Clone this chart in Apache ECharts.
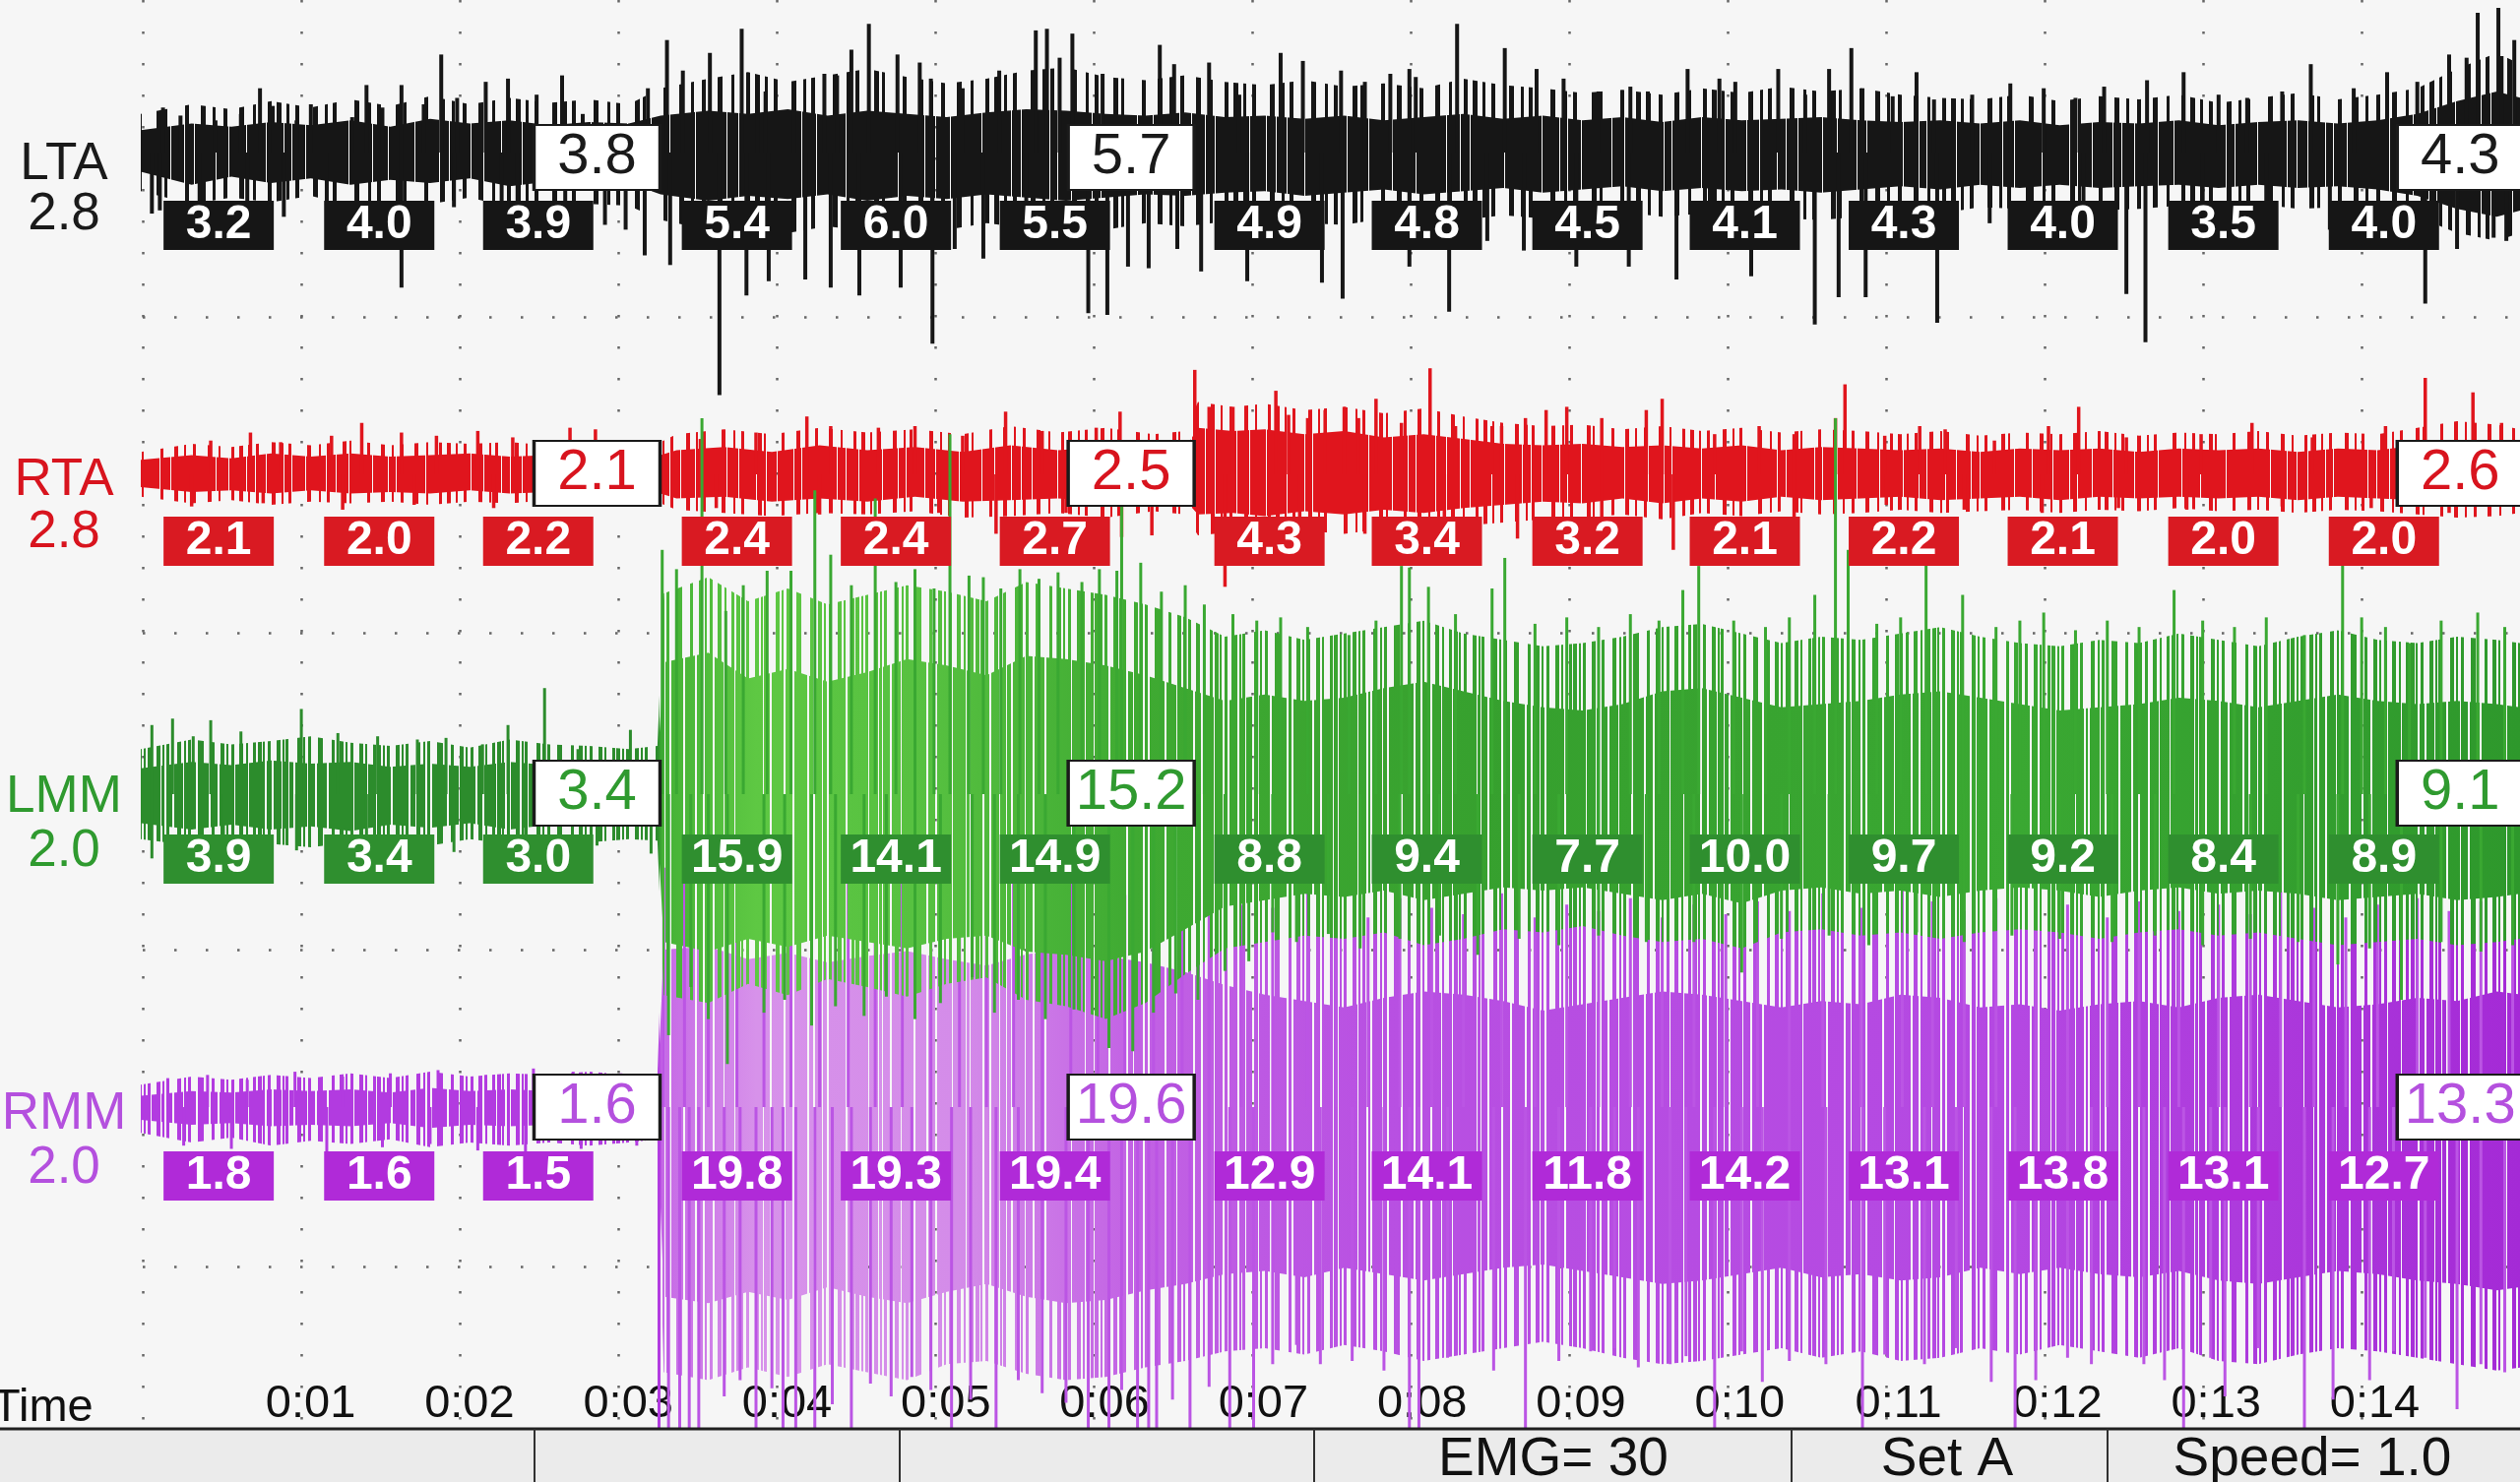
<!DOCTYPE html>
<html><head><meta charset="utf-8">
<style>html,body{margin:0;padding:0;background:#f6f6f6;}#c{width:2560px;height:1506px;}</style>
<script src="https://cdn.jsdelivr.net/npm/echarts@6/dist/echarts.min.js"></script>
</head><body><div id="c"></div>
<script>
// ---------------- DATA ----------------
const channels = ['LTA', 'RTA', 'LMM', 'RMM'];
const channelScales = ['2.8', '2.8', '2.0', '2.0'];
const timeLabels = ['0:01','0:02','0:03','0:04','0:05','0:06','0:07','0:08','0:09','0:10','0:11','0:12','0:13','0:14'];
const statusTexts = ['EMG= 30', 'Set A', 'Speed= 1.0'];

// times (s) of the per-window RMS labels and of the white "marker" boxes
const rmsTimes = [0.42, 1.43, 2.43, 3.68, 4.68, 5.68, 7.03, 8.02, 9.03, 10.02, 11.02, 12.02, 13.03, 14.04];
const boxTimes = [2.80, 6.16, 14.52];

const ltaRms = [3.2, 4.0, 3.9, 5.4, 6.0, 5.5, 4.9, 4.8, 4.5, 4.1, 4.3, 4.0, 3.5, 4.0];
const rtaRms = [2.1, 2.0, 2.2, 2.4, 2.4, 2.7, 4.3, 3.4, 3.2, 2.1, 2.2, 2.1, 2.0, 2.0];
const lmmRms = [3.9, 3.4, 3.0, 15.9, 14.1, 14.9, 8.8, 9.4, 7.7, 10.0, 9.7, 9.2, 8.4, 8.9];
const rmmRms = [1.8, 1.6, 1.5, 19.8, 19.3, 19.4, 12.9, 14.1, 11.8, 14.2, 13.1, 13.8, 13.1, 12.7];
const ltaBox = [3.8, 5.7, 4.3];
const rtaBox = [2.1, 2.5, 2.6];
const lmmBox = [3.4, 15.2, 9.1];
const rmmBox = [1.6, 19.6, 13.3];

// envelopes: [t, outerHigh, coreHigh, coreLow, outerLow] (amplitude, screen units)
const ltaEnv = [
[-0.07,24,14,-12,-24],[0.25,30,18,-20,-32],[0.5,27,16,-15,-28],[0.75,32,19,-19,-31],[1.0,28,17,-16,-27],
[1.25,33,20,-20,-33],[1.5,29,16,-17,-30],[1.75,35,21,-19,-32],[2.0,30,18,-16,-28],[2.25,34,20,-21,-34],
[2.5,31,17,-18,-30],[2.75,33,19,-20,-32],[3.0,30,18,-19,-33],[3.2,40,23,-26,-42],[3.5,46,26,-30,-48],
[3.75,50,24,-27,-47],[4.0,44,27,-29,-50],[4.25,48,23,-26,-46],[4.5,52,26,-30,-49],[4.75,47,24,-27,-45],
[5.0,43,22,-29,-48],[5.25,46,25,-26,-44],[5.5,51,27,-28,-47],[5.75,53,26,-30,-50],[6.0,47,24,-28,-48],
[6.25,45,23,-26,-44],[6.5,48,25,-27,-46],[6.75,44,22,-25,-43],[7.0,42,23,-24,-42],[7.25,45,21,-27,-44],
[7.5,41,23,-25,-45],[7.75,43,20,-23,-41],[8.0,40,22,-26,-43],[8.25,46,24,-24,-42],[8.5,42,21,-22,-39],
[8.75,40,23,-25,-41],[9.0,37,20,-23,-38],[9.25,39,22,-21,-37],[9.5,36,19,-24,-40],[9.75,40,22,-22,-38],
[10.0,37,20,-24,-39],[10.25,41,21,-23,-41],[10.5,38,22,-25,-42],[10.75,40,20,-23,-40],[11.0,36,19,-21,-37],
[11.25,34,20,-23,-38],[11.5,33,18,-20,-34],[11.75,36,20,-22,-35],[12.0,32,17,-20,-33],[12.25,35,19,-22,-36],
[12.5,33,18,-21,-35],[12.75,36,20,-20,-33],[13.0,31,17,-22,-34],[13.25,34,19,-20,-32],[13.5,37,20,-22,-35],
[13.75,33,18,-21,-34],[14.0,36,20,-23,-36],[14.25,40,24,-27,-40],[14.5,52,32,-35,-50],[14.75,62,38,-40,-55],
[14.9,55,34,-36,-50]
];
const rtaEnv = [
[-0.07,14,9,-8,-14],[0.25,19,12,-11,-18],[0.5,17,10,-10,-16],[0.75,20,13,-12,-19],[1.0,18,11,-10,-17],
[1.25,21,13,-12,-18],[1.5,18,11,-11,-17],[1.75,20,12,-12,-19],[2.0,19,13,-10,-17],[2.25,20,11,-12,-18],
[2.5,18,12,-11,-16],[2.75,19,11,-12,-18],[3.0,18,12,-11,-17],[3.2,20,12,-12,-18],[3.3,25,15,-15,-22],
[3.6,28,17,-14,-24],[3.9,25,14,-17,-26],[4.2,29,18,-15,-24],[4.5,26,15,-17,-25],[4.8,28,17,-14,-23],
[5.1,25,14,-17,-27],[5.4,30,18,-16,-26],[5.7,26,15,-15,-24],[6.0,29,17,-17,-27],[6.3,25,14,-14,-23],
[6.5,27,16,-16,-25],[6.58,45,29,-25,-38],[6.8,42,27,-24,-36],[7.0,44,28,-26,-38],[7.25,40,25,-23,-35],
[7.5,42,27,-25,-37],[7.75,38,23,-22,-34],[8.0,41,25,-24,-35],[8.25,36,22,-21,-32],[8.5,32,19,-19,-30],
[8.75,30,18,-17,-28],[9.0,31,19,-18,-27],[9.25,28,17,-15,-25],[9.5,30,18,-18,-28],[9.75,27,16,-15,-24],
[10.0,29,18,-17,-26],[10.25,26,15,-14,-23],[10.5,28,17,-16,-25],[10.75,27,16,-15,-24],[11.0,25,15,-14,-22],
[11.25,27,16,-16,-24],[11.5,24,14,-15,-23],[11.75,26,16,-14,-22],[12.0,25,15,-16,-24],[12.25,27,16,-14,-22],
[12.5,24,14,-15,-23],[12.75,26,16,-14,-21],[13.0,25,15,-15,-23],[13.25,27,16,-14,-22],[13.5,24,14,-16,-24],
[13.75,26,16,-14,-22],[14.0,25,15,-15,-23],[14.25,29,18,-16,-25],[14.5,33,21,-18,-27],[14.75,31,20,-17,-26],
[14.9,28,18,-16,-24]
];
const lmmEnv = [
[-0.07,28,16,-18,-28],[0.25,34,20,-22,-32],[0.5,31,18,-19,-30],[0.75,33,21,-22,-31],[1.0,36,19,-20,-33],
[1.25,32,20,-23,-30],[1.5,30,17,-19,-29],[1.75,33,19,-21,-32],[2.0,29,17,-18,-28],[2.25,34,20,-22,-31],
[2.5,31,18,-19,-29],[2.75,30,17,-20,-30],[3.0,28,16,-18,-28],[3.18,30,17,-19,-29],[3.22,125,82,-92,-125],
[3.5,135,88,-98,-130],[3.75,120,72,-90,-118],[4.0,128,78,-95,-125],[4.25,118,70,-88,-115],[4.5,124,76,-92,-120],
[4.75,130,84,-96,-126],[5.0,126,80,-90,-118],[5.25,120,74,-88,-114],[5.5,132,86,-98,-128],[5.75,128,84,-100,-132],
[6.0,124,80,-104,-140],[6.25,118,74,-98,-130],[6.5,110,66,-84,-112],[6.75,98,58,-70,-96],[7.0,102,62,-66,-92],
[7.25,96,58,-62,-88],[7.5,100,60,-64,-90],[7.75,104,66,-60,-86],[8.0,108,70,-66,-94],[8.25,100,64,-62,-90],
[8.5,96,58,-58,-84],[8.75,92,54,-60,-86],[9.0,94,52,-58,-82],[9.25,98,56,-62,-88],[9.5,104,64,-66,-92],
[9.75,106,66,-62,-90],[10.0,100,60,-68,-96],[10.25,94,54,-60,-86],[10.5,98,56,-58,-84],[10.75,96,58,-62,-88],
[11.0,100,62,-60,-86],[11.25,104,64,-64,-90],[11.5,98,60,-60,-86],[11.75,94,56,-58,-84],[12.0,92,52,-60,-86],
[12.25,96,54,-64,-90],[12.5,94,56,-60,-86],[12.75,100,60,-58,-84],[13.0,96,58,-62,-88],[13.25,92,54,-60,-86],
[13.5,98,58,-62,-90],[13.75,102,62,-66,-94],[14.0,96,58,-64,-92],[14.25,94,56,-62,-90],[14.5,98,58,-66,-94],
[14.75,96,56,-64,-92],[14.9,94,54,-62,-90]
];
const rmmEnv = [
[-0.07,14,7,-8,-16],[0.25,19,10,-11,-22],[0.5,17,9,-10,-19],[0.75,20,11,-12,-24],[1.0,18,10,-11,-21],
[1.25,21,11,-12,-23],[1.5,18,9,-10,-20],[1.75,22,12,-13,-25],[2.0,19,10,-11,-22],[2.25,21,11,-12,-24],
[2.5,20,10,-11,-22],[2.75,22,12,-12,-24],[3.0,20,11,-11,-22],[3.18,19,10,-10,-20],[3.22,140,98,-118,-165],
[3.5,145,100,-122,-170],[3.75,136,92,-115,-162],[4.0,140,96,-120,-168],[4.25,132,90,-112,-160],[4.5,138,94,-118,-165],
[4.75,142,97,-122,-170],[5.0,135,92,-115,-160],[5.25,130,88,-110,-158],[5.5,138,95,-118,-166],[5.75,142,98,-122,-170],
[6.0,136,94,-120,-168],[6.25,132,90,-114,-162],[6.5,128,84,-110,-158],[6.75,124,76,-104,-152],[7.0,122,70,-102,-150],
[7.25,126,66,-106,-154],[7.5,118,62,-100,-148],[7.75,122,68,-104,-152],[8.0,128,72,-108,-158],[8.25,124,70,-104,-154],
[8.5,126,66,-100,-150],[8.75,118,60,-98,-146],[9.0,122,64,-102,-150],[9.25,120,68,-106,-156],[9.5,126,72,-110,-160],
[9.75,124,70,-108,-158],[10.0,120,66,-104,-154],[10.25,116,62,-100,-150],[10.5,126,66,-106,-156],[10.75,122,64,-104,-152],
[11.0,128,70,-108,-158],[11.25,124,68,-106,-156],[11.5,118,62,-100,-150],[11.75,120,64,-104,-154],[12.0,116,60,-100,-148],
[12.25,120,64,-104,-152],[12.5,122,66,-106,-156],[12.75,118,62,-102,-150],[13.0,124,68,-108,-158],[13.25,126,70,-110,-160],
[13.5,120,66,-106,-154],[13.75,118,62,-102,-150],[14.0,122,64,-104,-152],[14.25,124,68,-108,-156],[14.5,120,66,-110,-160],
[14.75,126,72,-114,-164],[14.9,124,70,-112,-162]
];

// individual spikes: [t, amplitude]
const ltaSpikes = [
[0.07,28],[0.18,23],[0.40,20],[0.56,24],[0.68,40],[0.76,29],[0.91,20],[1.0,30],[1.26,22],[1.35,42],[1.45,28],[1.57,42],
[1.71,30],[1.82,61],[1.92,34],[2.10,44],[2.24,46],[2.42,36],[2.58,48],[2.71,24],[3.12,40],[3.24,70],[3.34,51],[3.51,62],
[3.71,77],[3.81,43],[3.86,38],[4.04,39],[4.23,49],[4.31,48],[4.40,64],[4.51,80],[4.69,61],[4.83,56],[4.90,46],[5.10,40],
[5.33,51],[5.56,76],[5.63,77],[5.71,59],[5.79,74],[5.98,49],[6.34,67],[6.43,55],[6.65,56],[6.84,36],[7.10,62],[7.24,57],
[7.48,51],[7.63,44],[7.79,49],[7.91,52],[7.95,47],[8.21,80],[8.51,65],[8.71,52],[8.88,46],[9.10,38],[9.30,41],[9.41,38],
[9.66,52],[9.86,46],[9.96,44],[10.23,52],[10.40,36],[10.55,52],[10.69,65],[10.76,40],[10.95,35],[11.10,50],[11.21,33],
[11.45,36],[11.69,43],[11.90,40],[12.10,34],[12.28,41],[12.55,45],[12.78,50],[13.00,36],[13.18,34],[13.40,38],[13.58,55],
[13.85,40],[14.06,50],[14.25,44],[14.45,61],[14.56,59],[14.63,87],[14.76,90],[14.78,60],[14.86,70],
[0.0,-38],[0.05,-36],[0.3,-32],[0.6,-30],[0.83,-40],[1.1,-33],[1.57,-84],[1.9,-34],[2.20,-46],[2.3,-30],[2.6,-36],
[2.85,-45],[2.98,-48],[3.10,-64],[3.26,-70],[3.57,-151],[3.74,-89],[3.88,-80],[4.11,-79],[4.27,-84],[4.45,-89],[4.71,-84],
[4.91,-119],[5.05,-60],[5.23,-66],[5.50,-58],[5.89,-100],[6.01,-101],[6.14,-71],[6.27,-72],[6.45,-60],[6.60,-74],[6.89,-80],
[7.36,-81],[7.49,-91],[7.91,-71],[8.16,-99],[8.40,-55],[8.63,-61],[8.96,-71],[9.29,-71],[9.59,-79],[9.80,-52],[10.06,-77],
[10.46,-107],[10.61,-90],[10.78,-90],[11.23,-106],[11.56,-44],[11.80,-48],[12.15,-50],[12.42,-88],[12.54,-118],[12.90,-46],
[13.30,-50],[13.70,-48],[14.30,-94],[14.50,-60],[14.73,-53],[14.81,-55]
];
const rtaSpikes = [
[0.37,21],[0.62,26],[0.81,20],[1.13,24],[1.32,32],[1.57,26],[1.79,24],[2.05,27],[2.27,23],[2.63,29],[2.79,28],[3.45,22],
[3.80,26],[4.12,36],[4.27,30],[4.57,29],[4.80,30],[5.10,24],[5.37,39],[5.60,27],[5.94,29],[6.09,39],[6.56,65],[6.65,42],
[6.80,42],[7.07,52],[7.15,37],[7.27,35],[7.38,40],[7.50,42],[7.59,35],[7.70,47],[7.86,32],[8.04,66],[8.20,30],[8.43,30],
[8.49,30],[8.64,35],[8.77,40],[8.90,42],[9.12,35],[9.40,40],[9.50,47],[9.83,25],[10.11,30],[10.33,25],[10.59,35],[10.65,56],
[10.90,24],[11.12,30],[11.28,28],[11.59,21],[11.93,30],[12.12,42],[12.42,23],[12.89,25],[13.21,32],[13.59,23],[14.05,30],
[14.30,60],[14.60,51],[14.78,32],
[0.25,-20],[0.7,-18],[1.2,-22],[1.65,-19],[2.15,-21],[2.55,-18],[3.0,-20],[3.55,-21],[4.20,-25],[4.95,-24],[5.31,-37],
[5.75,-24],[6.10,-39],[6.29,-38],[6.75,-70],[7.22,-30],[7.63,-37],[8.13,-32],[8.59,-40],[9.12,-27],[9.57,-47],[10.33,-32],
[10.91,-19],[11.40,-22],[11.89,-24],[12.37,-21],[12.80,-22],[13.40,-20],[13.96,-21],[14.45,-24]
];
const lmmSpikes = [
[0.0,43],[0.13,47],[0.26,36],[0.37,46],[0.56,39],[0.94,53],[1.17,38],[1.42,36],[1.67,34],[1.85,35],[2.08,31],[2.24,43],
[2.47,66],[2.68,28],[3.01,40],
[0.0,-40],[0.45,-32],[0.91,-35],[1.35,-30],[1.90,-36],[2.35,-30],[2.80,-32],[3.14,-37],
[3.21,152],[3.30,140],[3.46,234],[3.61,114],[3.72,130],[3.87,139],[4.02,139],[4.17,189],[4.27,149],[4.40,130],[4.55,184],
[4.68,132],[4.80,140],[4.92,128],[5.02,224],[5.14,136],[5.23,135],[5.34,128],[5.46,140],[5.58,134],[5.70,138],[5.85,132],
[5.96,140],[6.07,139],[6.10,179],[6.22,144],[6.35,126],[6.50,130],[6.62,118],[6.80,112],[6.95,108],[7.10,110],[7.27,104],
[7.53,99],[7.70,108],[7.86,142],[7.91,141],[8.03,129],[8.20,112],[8.43,128],[8.51,147],[8.70,106],[8.90,110],[9.10,104],
[9.30,112],[9.48,108],[9.63,127],[9.73,142],[9.95,108],[10.15,104],[10.30,110],[10.46,124],[10.59,234],[10.67,152],
[10.85,106],[11.00,110],[11.16,143],[11.39,124],[11.60,104],[11.75,108],[11.90,113],[12.10,102],[12.30,108],[12.50,104],
[12.72,127],[12.90,108],[13.10,104],[13.30,110],[13.54,99],[13.78,143],[13.90,110],[14.05,104],[14.20,94],[14.40,108],
[14.63,113],[14.80,104],
[3.25,-150],[3.39,-120],[3.50,-140],[3.62,-168],[3.85,-136],[3.98,-128],[4.15,-144],[4.30,-132],[4.48,-138],[4.62,-126],
[4.80,-140],[4.96,-130],[5.16,-114],[5.30,-136],[5.45,-128],[5.62,-140],[5.80,-134],[6.02,-158],[6.17,-160],[6.30,-136],
[6.44,-124],[6.58,-128],[6.75,-110],[6.90,-104],[7.05,-86],[7.20,-92],[7.40,-87],[7.60,-96],[7.85,-90],[8.10,-88],
[8.34,-100],[8.60,-90],[8.85,-94],[9.10,-88],[9.40,-92],[9.70,-92],[10.00,-111],[10.25,-90],[10.55,-88],[10.80,-94],
[11.10,-86],[11.40,-92],[11.70,-88],[12.00,-90],[12.33,-92],[12.60,-88],[12.90,-94],[13.20,-90],[13.50,-92],[13.75,-106],
[13.95,-96],[14.15,-128],[14.40,-92],[14.65,-98],[14.85,-94]
];
const rmmSpikes = [
[0.1,18],[0.35,20],[0.6,17],[0.9,22],[1.2,19],[1.5,21],[1.8,23],[2.1,20],[2.4,24],[2.65,22],[2.95,21],
[0.2,-24],[0.5,-26],[0.8,-22],[1.1,-28],[1.45,-25],[1.75,-23],[2.05,-27],[2.35,-29],[2.7,-26],[3.05,-24],
[3.22,149],[3.35,140],[3.50,136],[3.68,142],[3.85,138],[4.02,145],[4.20,134],[4.38,140],[4.55,132],[4.72,144],[4.90,138],
[5.08,130],[5.25,136],[5.42,142],[5.60,134],[5.78,146],[5.95,138],[6.12,132],[6.30,136],[6.48,128],[6.65,130],[6.85,126],
[7.05,124],[7.27,133],[7.45,128],[7.65,118],[7.85,130],[8.05,124],[8.25,120],[8.49,133],[8.70,118],[8.90,126],[9.10,122],
[9.30,130],[9.50,118],[9.70,126],[9.90,120],[10.10,128],[10.30,122],[10.51,133],[10.75,124],[11.01,141],[11.20,128],
[11.40,122],[11.60,130],[11.85,120],[12.05,126],[12.30,118],[12.50,128],[12.75,122],[13.00,126],[13.20,120],[13.39,134],
[13.60,124],[13.80,118],[14.00,126],[14.25,130],[14.45,122],[14.65,128],[14.85,132],
[3.19,-200],[3.25,-200],[3.32,-200],[3.38,-200],[3.44,-200],[3.80,-200],[3.97,-200],[4.05,-200],[4.17,-200],[4.40,-200],
[5.03,-200],[5.31,-200],[5.89,-200],[6.02,-200],[6.20,-200],[6.27,-200],[6.32,-200],[6.53,-200],[6.78,-200],[6.93,-200],
[7.91,-200],[7.97,-200],[8.64,-200],[9.83,-200],[10.76,-200],[11.72,-200],[12.78,-200],[13.54,-200],
[3.60,-180],[3.70,-170],[3.90,-175],[4.28,-185],[4.52,-172],[4.65,-180],[4.78,-168],[4.90,-176],[5.15,-182],[5.45,-170],
[5.60,-178],[5.75,-184],[6.10,-176],[6.42,-182],[6.65,-174],[7.05,-160],[7.20,-148],[7.35,-160],[7.55,-158],[7.75,-164],
[8.15,-156],[8.44,-164],[8.85,-158],[9.05,-152],[9.20,-150],[9.35,-162],[9.55,-160],[9.65,-155],[10.00,-152],[10.13,-171],
[10.30,-158],[10.53,-160],[10.90,-154],[11.15,-160],[11.35,-150],[11.57,-171],[11.85,-170],[12.05,-156],[12.20,-160],
[12.53,-160],[12.66,-170],[12.95,-156],[13.04,-180],[13.25,-150],[13.72,-182],[13.95,-170],[14.10,-152],[14.30,-156],
[14.50,-188],[14.65,-160],[14.80,-165]
];

// ---------------- LAYOUT / STYLE ----------------
const W = 2560, H = 1506;
const FONT = '"Liberation Sans", Arial, sans-serif';
const PLOT_BOTTOM = 1452;          // px, top of status bar
const U = 1.633;                    // px per amplitude unit
const BASE = [155, 482, 807, 1125]; // px baseline of each channel
const DATA_LEFT = 143, T_MIN = -0.07, PX_PER_S = 161.5;
const T_MAX = (W - DATA_LEFT) / PX_PER_S + T_MIN;
const LABEL_LEFT = DATA_LEFT + (0 - T_MIN) * PX_PER_S;
const RMS_DY = [74, 68, 66, 70];    // px below baseline
const BOX_DY = [5, -1, -1, 0];
const NAME_Y = [167, 488, 810, 1132];
const SCALE_Y = [218, 541, 865, 1187];

// stripe textures (trace look): fixed irregular spacing sequence
const GAP_SEQ = [7, 11, 5, 9, 13, 6, 8, 15, 10, 5, 12, 7, 9, 6, 14, 8, 11, 6];
function paintStyle(ctx, colors) {
  if (typeof colors === 'string') return colors;
  const g = ctx.createLinearGradient(0, 0, W, 0);
  colors.forEach(s => g.addColorStop(s[0], s[1]));
  return g;
}
function tile(paint) {
  const c = document.createElement('canvas'); c.width = W; c.height = 8;
  paint(c.getContext('2d'));
  return {image: c, repeat: 'repeat'};
}
function corePattern(colors, gapW, step) {
  return tile(ctx => {
    ctx.fillStyle = paintStyle(ctx, colors); ctx.fillRect(0, 0, W, 8);
    let x = 0, k = 0;
    while (x < W) { x += GAP_SEQ[k % GAP_SEQ.length] * step; ctx.clearRect(Math.round(x), 0, gapW, 8); k++; }
  });
}
function hairPattern(colors, lineW, step) {
  return tile(ctx => {
    ctx.fillStyle = paintStyle(ctx, colors);
    let x = 0, k = 0;
    while (x < W) { x += GAP_SEQ[(k * 5 + 3) % GAP_SEQ.length] * step; ctx.fillRect(Math.round(x), 0, lineW + (k % 3), 8); k++; }
  });
}
const grad = (stops) => ({type: 'linear', x: 0, y: 0, x2: W, y2: 0, global: true,
  colorStops: stops.map(s => ({offset: s[0], color: s[1]}))});

const greenStops = [[0,'#2c8c2c'],[0.261,'#2c8c2c'],[0.263,'#45b236'],[0.3,'#5ec843'],[0.37,'#56c040'],[0.45,'#3faa32'],[0.6,'#36a02e'],[0.8,'#3aa832'],[1,'#2e982c']];
const purpleStops = [[0,'#b23be0'],[0.261,'#b23be0'],[0.263,'#c66ae6'],[0.3,'#d792ea'],[0.38,'#d48ce9'],[0.45,'#c262e4'],[0.55,'#b850e2'],[0.8,'#b448e2'],[1,'#a42ad6']];
const greenBoxStops = [[0,'#2f8f2f'],[0.261,'#2f8f2f'],[0.263,'#4ab83a'],[0.3,'#5ec843'],[0.37,'#56c040'],[0.44,'#40aa33'],[0.47,'#2e8b2e'],[1,'#2e8b2e']];
const purpleBoxStops = [[0,'#b02ad8'],[0.261,'#b02ad8'],[0.263,'#c66ae6'],[0.3,'#d792ea'],[0.38,'#d48ce9'],[0.45,'#c262e4'],[0.55,'#b850e2'],[0.8,'#b448e2'],[1,'#a42ad6']];

const styles = [
  {core: corePattern('#161616', 1, 1.6), hair: hairPattern('#161616', 3, 1.5),
   spike: () => '#161616', sw: 4, box: '#161616', text: '#1a1a1a', z: 2},
  {core: corePattern('#e0151d', 1, 1.6), hair: hairPattern('#e0151d', 2, 1.3),
   spike: () => '#e0151d', sw: 3.5, box: '#d91a22', text: '#d8141e', z: 3},
  {core: corePattern(greenStops, 1.5, 0.9), hair: hairPattern(greenStops, 2, 0.75),
   spike: t => t < 3.2 ? '#2c8c2c' : '#3aa832', sw: 3, box: grad(greenBoxStops), text: '#2f9a2f', z: 5},
  {core: corePattern(purpleStops, 1.5, 0.9), hair: hairPattern(purpleStops, 2, 0.75),
   spike: t => t < 3.2 ? '#b23be0' : '#bb55e4', sw: 3, box: grad(purpleBoxStops), text: '#b450de', z: 4}
];
const envs = [ltaEnv, rtaEnv, lmmEnv, rmmEnv];
const spikes = [ltaSpikes, rtaSpikes, lmmSpikes, rmmSpikes];
const rmsVals = [ltaRms, rtaRms, lmmRms, rmmRms];
const boxVals = [ltaBox, rtaBox, lmmBox, rmmBox];

const grids = [], xAxes = [], yAxes = [], series = [];
for (let i = 0; i < 4; i++) {
  grids.push({left: DATA_LEFT, right: 0, top: 0, bottom: H - PLOT_BOTTOM});
  xAxes.push({type: 'value', gridIndex: i, min: T_MIN, max: T_MAX, show: false});
  yAxes.push({type: 'value', gridIndex: i, min: -(PLOT_BOTTOM - BASE[i]) / U, max: BASE[i] / U, show: false});
  const st = styles[i];
  const band = (col, fill) => ({type: 'line', xAxisIndex: i, yAxisIndex: i, symbol: 'none', silent: true,
    lineStyle: {width: 0, opacity: 0}, areaStyle: {color: fill, opacity: 1}, z: st.z,
    data: envs[i].map(r => [r[0], r[col]])});
  series.push(band(1, st.hair), band(4, st.hair), band(2, st.core), band(3, st.core));
  series.push({type: 'custom', xAxisIndex: i, yAxisIndex: i, clip: true, silent: true, z: st.z,
    data: spikes[i],
    renderItem: (p, api) => {
      const t = api.value(0), v = api.value(1);
      const a = api.coord([t, 0]), b = api.coord([t, v]);
      return {type: 'line', shape: {x1: a[0], y1: a[1], x2: b[0], y2: b[1]},
        style: {stroke: st.spike(t), lineWidth: st.sw}};
    }});
  series.push({type: 'scatter', xAxisIndex: i, yAxisIndex: i, silent: true, z: 20, clip: false,
    data: rmsTimes.map((t, k) => [t, -RMS_DY[i] / U, rmsVals[i][k]]),
    symbol: 'rect', symbolSize: [112, 50], itemStyle: {color: st.box, opacity: 1},
    label: {show: true, position: 'inside', formatter: p => p.value[2].toFixed(1),
      color: '#ffffff', fontSize: 48, fontWeight: 'bold', fontFamily: FONT}});
  series.push({type: 'scatter', xAxisIndex: i, yAxisIndex: i, silent: true, z: 21, clip: false,
    data: boxTimes.map((t, k) => [t, -BOX_DY[i] / U, boxVals[i][k]]),
    symbol: 'rect', symbolSize: [128, 66], itemStyle: {color: '#ffffff', borderColor: '#1a1a1a', borderWidth: 2.5, opacity: 1},
    label: {show: true, position: 'inside', formatter: p => p.value[2].toFixed(1),
      color: st.text, fontSize: 58, fontFamily: FONT}});
}
// time axis grid (index 4)
grids.push({left: LABEL_LEFT, right: 0, top: 0, bottom: H - 1404});
xAxes.push({type: 'value', gridIndex: 4, min: 0, max: (W - LABEL_LEFT) / PX_PER_S, interval: 1,
  axisLine: {show: false}, axisTick: {show: false}, splitLine: {show: false},
  axisLabel: {show: true, margin: 0, fontSize: 47, color: '#111', fontFamily: FONT,
    formatter: v => (v >= 1 && v <= timeLabels.length) ? timeLabels[v - 1] : ''}});
yAxes.push({type: 'value', gridIndex: 4, show: false});
// dotted grid (index 5)
grids.push({left: 145, right: 0, top: 0, bottom: H - PLOT_BOTTOM});
xAxes.push({type: 'value', gridIndex: 5, min: 0, max: 15, interval: 1, axisLine: {show: false}, axisTick: {show: false}, axisLabel: {show: false},
  splitLine: {show: true, showMaxLine: false, lineStyle: {color: '#666', width: 2.5, type: [2.5, 29.5]}}});
yAxes.push({type: 'value', gridIndex: 5, inverse: true, min: 0, max: PLOT_BOTTOM, interval: 321.75,
  axisLine: {show: false}, axisTick: {show: false}, axisLabel: {show: false},
  splitLine: {show: true, showMinLine: false, showMaxLine: false, lineStyle: {color: '#666', width: 2.5, type: [2.5, 29.5]}}});

const txt = (text, x, y, size, color, align) => ({type: 'text', x, y, z: 100, silent: true,
  style: {text, fill: color, font: size + 'px ' + FONT, align: align || 'center', verticalAlign: 'middle',
    textAlign: align || 'center', textVerticalAlign: 'middle'}});
const graphics = [];
graphics.push({type: 'rect', z: 90, silent: true, shape: {x: 0, y: PLOT_BOTTOM, width: W, height: H - PLOT_BOTTOM}, style: {fill: '#ebebeb'}});
graphics.push({type: 'line', z: 95, silent: true, shape: {x1: 0, y1: PLOT_BOTTOM, x2: W, y2: PLOT_BOTTOM}, style: {stroke: '#202020', lineWidth: 3}});
[543, 914, 1335, 1820, 2141].forEach(x => graphics.push({type: 'line', z: 95, silent: true,
  shape: {x1: x, y1: PLOT_BOTTOM, x2: x, y2: H}, style: {stroke: '#303030', lineWidth: 2}}));
const statusX = [1578, 1978, 2349];
statusTexts.forEach((s, k) => graphics.push(txt(s, statusX[k], 1484, 55, '#111')));
graphics.push(txt('Time', -8, 1431, 47, '#111', 'left'));
channels.forEach((c, i) => {
  graphics.push(txt(c, 65, NAME_Y[i], 53, styles[i].text));
  graphics.push(txt(channelScales[i], 65, SCALE_Y[i], 53, styles[i].text));
});

const chart = echarts.init(document.getElementById('c'), null, {renderer: 'canvas', width: W, height: H});
chart.setOption({
  backgroundColor: '#f6f6f6',
  animation: false,
  grid: grids, xAxis: xAxes, yAxis: yAxes, series, graphic: graphics
});
</script></body></html>
